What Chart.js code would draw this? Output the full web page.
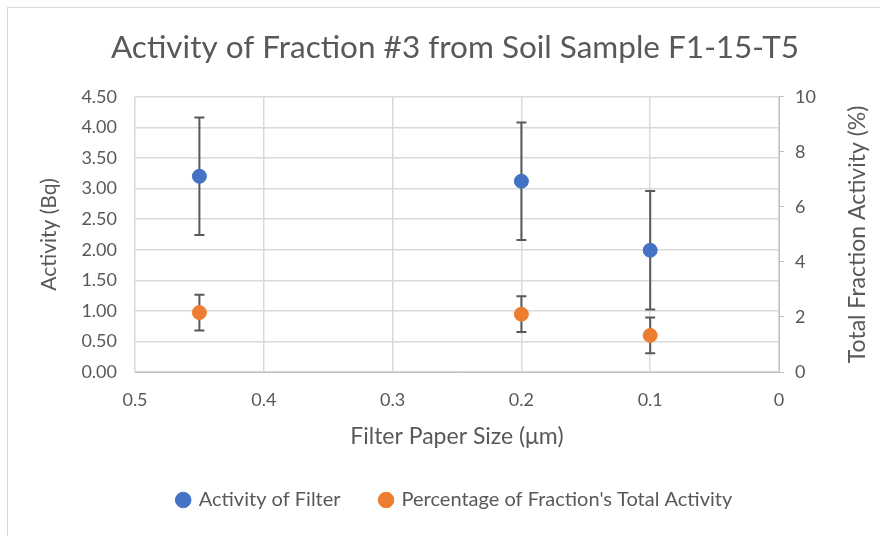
<!DOCTYPE html>
<html>
<head>
<meta charset="utf-8">
<script src="https://cdn.jsdelivr.net/npm/chart.js@4"></script>
<style>
    html, body { margin: 0; padding: 0; background: #fff; overflow: hidden; }
    #frame { position: absolute; left: 7px; top: 7px; width: 900px; height: 600px; border: 1px solid #d9d9d9; }
    #wrap { position: absolute; left: 0; top: 0; width: 880px; height: 536px; }
</style>
</head>
<body>
<div id="frame"></div>
<div id="wrap"><canvas id="chartActivity"></canvas></div>
<script>
const filterSizes = [0.45, 0.2, 0.1];
const activity = [3.20, 3.12, 1.99];
const activityErr = [0.96, 0.96, 0.97];
const percentage = [2.16, 2.10, 1.33];
const percentageErr = [0.65, 0.65, 0.65];

const COLORS = {
    blue: '#4472C4',
    orange: '#ED7D31',
    text: '#595959',
    grid: '#d9d9d9',
    axis: '#bfbfbf',
    errBar: '#595959'
};

const FONT = 'Lato';
const AXIS_TITLE_SIZE = 23;

function toPoints(xs, ys, errs) {
    return xs.map((x, i) => ({ x: x, y: ys[i], err: errs[i] }));
}

// error bars drawn under the markers, through the chart's own scales
const errorBars = {
    id: 'errorBars',
    beforeDatasetsDraw(chart) {
        const ctx = chart.ctx;
        const xScale = chart.scales.x;
        chart.data.datasets.forEach(ds => {
            const yScale = chart.scales[ds.yAxisID];
            ds.data.forEach(p => {
                const px = xScale.getPixelForValue(p.x);
                const top = yScale.getPixelForValue(p.y + p.err);
                const bottom = yScale.getPixelForValue(p.y - p.err);
                ctx.save();
                ctx.strokeStyle = COLORS.errBar;
                ctx.lineWidth = 2;
                ctx.beginPath();
                ctx.moveTo(px, top);
                ctx.lineTo(px, bottom);
                ctx.moveTo(px - 5, top);
                ctx.lineTo(px + 5, top);
                ctx.moveTo(px - 5, bottom);
                ctx.lineTo(px + 5, bottom);
                ctx.stroke();
                ctx.restore();
            });
        });
    }
};

// right axis title reads bottom-to-top like Excel
const rightTitle = {
    id: 'rightTitle',
    afterDraw(chart) {
        const ctx = chart.ctx;
        const area = chart.chartArea;
        ctx.save();
        ctx.translate(858, (area.top + area.bottom) / 2);
        ctx.rotate(-Math.PI / 2);
        ctx.font = AXIS_TITLE_SIZE + 'px ' + FONT;
        ctx.fillStyle = COLORS.text;
        ctx.textAlign = 'center';
        ctx.textBaseline = 'middle';
        ctx.fillText('Total Fraction Activity (%)', 0, 0);
        ctx.restore();
    }
};

const data = {
    datasets: [
        {
            label: 'Activity of Filter',
            data: toPoints(filterSizes, activity, activityErr),
            yAxisID: 'y',
            backgroundColor: COLORS.blue,
            borderColor: COLORS.blue,
            pointRadius: 7,
            pointHoverRadius: 7,
            showLine: false
        }, {
            label: "Percentage of Fraction's Total Activity",
            data: toPoints(filterSizes, percentage, percentageErr),
            yAxisID: 'y1',
            backgroundColor: COLORS.orange,
            borderColor: COLORS.orange,
            pointRadius: 7,
            pointHoverRadius: 7,
            showLine: false
        }
    ]
};

const config = {
    type: 'scatter',
    data: data,
    options: {
        responsive: true,
        maintainAspectRatio: false,
        animation: false,
        layout: {
            padding: { left: 30, right: 0, top: 0, bottom: 16 }
        },
        plugins: {
            title: {
                display: true,
                text: 'Activity of Fraction #3 from Soil Sample F1-15-T5',
                color: COLORS.text,
                font: { family: FONT, size: 31.5, weight: 'normal', lineHeight: 1.2 },
                padding: { top: 29, bottom: 30 }
            },
            legend: {
                position: 'bottom',
                labels: {
                    usePointStyle: true,
                    pointStyle: 'circle',
                    boxWidth: 11,
                    boxHeight: 11,
                    padding: 40,
                    color: COLORS.text,
                    font: { family: FONT, size: 20 }
                }
            },
            tooltip: { enabled: false }
        },
        scales: {
            x: {
                type: 'linear',
                reverse: true,
                min: 0,
                max: 0.5,
                afterFit(scale) { scale.height = 78; },
                border: { display: true, color: COLORS.axis },
                grid: { color: COLORS.grid, lineWidth: 1.5, drawTicks: false },
                ticks: {
                    stepSize: 0.1,
                    padding: 17,
                    color: COLORS.text,
                    font: { family: FONT, size: 18 },
                    callback: v => String(Number(v.toFixed(1)))
                },
                title: {
                    display: true,
                    text: 'Filter Paper Size (μm)',
                    color: COLORS.text,
                    font: { family: FONT, size: AXIS_TITLE_SIZE },
                    padding: { top: 0, bottom: 0 }
                }
            },
            y: {
                position: 'left',
                min: 0,
                max: 4.5,
                afterFit(scale) { scale.width = 105; },
                border: { display: false },
                grid: { color: COLORS.grid, lineWidth: 1.5, drawTicks: false },
                ticks: {
                    stepSize: 0.5,
                    padding: 18,
                    color: COLORS.text,
                    font: { family: FONT, size: 18 },
                    callback: v => v.toFixed(2)
                },
                title: {
                    display: true,
                    text: 'Activity (Bq)',
                    color: COLORS.text,
                    font: { family: FONT, size: 21 },
                    padding: { top: 7, bottom: 0 }
                }
            },
            y1: {
                position: 'right',
                min: 0,
                max: 10,
                afterFit(scale) { scale.width = 101; },
                border: { display: true, color: COLORS.axis },
                grid: { drawOnChartArea: false, drawTicks: true, tickLength: 5, color: COLORS.axis },
                ticks: {
                    stepSize: 2,
                    padding: 11,
                    color: COLORS.text,
                    font: { family: FONT, size: 18 }
                }
            }
        }
    },
    plugins: [errorBars, rightTitle]
};

let ctx = document.getElementById('chartActivity').getContext('2d');
new Chart(ctx, config);
</script>
</body>
</html>
